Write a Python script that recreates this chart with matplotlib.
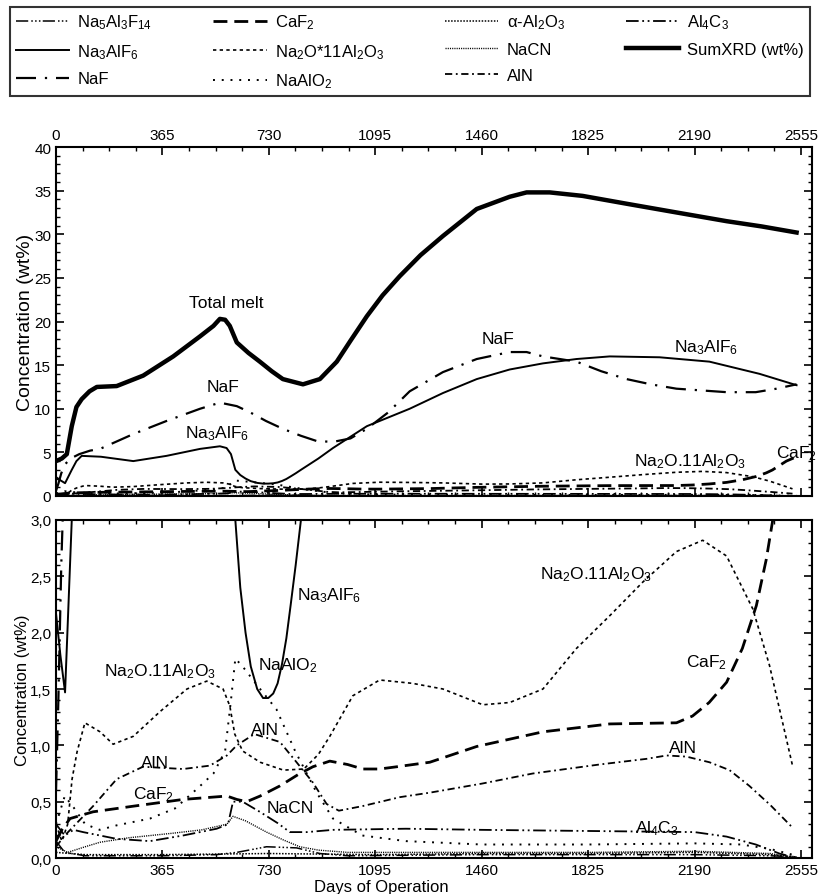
import matplotlib
matplotlib.use("Agg")
import matplotlib.pyplot as plt
from matplotlib.ticker import MultipleLocator, FuncFormatter

plt.rcParams['font.family'] = ['Liberation Sans', 'DejaVu Sans']
plt.rcParams['mathtext.fontset'] = 'custom'
plt.rcParams['mathtext.rm'] = 'Liberation Sans'
plt.rcParams['mathtext.it'] = 'Liberation Sans'

# --- data (days of operation, wt%) ---
sum_days = [0, 20, 37, 54, 70, 88, 115, 140, 208, 299, 402, 494, 540, 562, 580, 596, 620, 660, 699,
            740, 778, 847, 905, 963, 1010, 1066, 1120, 1179, 1250, 1327, 1443, 1556, 1614, 1693, 1806,
            1957, 2128, 2300, 2420, 2540]
sum_vals = [4.0, 4.3, 4.8, 8.0, 10.2, 11.1, 12.0, 12.5, 12.6, 13.8, 16.0, 18.3, 19.5, 20.3, 20.2, 19.5,
            17.6, 16.4, 15.4, 14.3, 13.4, 12.8, 13.4, 15.4, 17.8, 20.6, 23.0, 25.2, 27.6, 29.8, 32.9,
            34.3, 34.8, 34.8, 34.4, 33.5, 32.5, 31.5, 30.9, 30.2]

na3_days = [0, 15, 31, 42, 54, 70, 88, 154, 265, 379, 494, 562, 585, 600, 615, 632, 650, 668, 690, 710,
            728, 745, 760, 775, 790, 805, 822, 840, 900, 950, 1066, 1213, 1327, 1443, 1556, 1670, 1785,
            1899, 2070, 2241, 2413, 2540]
na3_vals = [2.17, 1.8, 1.47, 2.2, 3.0, 4.0, 4.6, 4.5, 4.0, 4.6, 5.4, 5.7, 5.5, 4.8, 3.0, 2.4, 2.0,
            1.7, 1.5, 1.42, 1.42, 1.46, 1.55, 1.72, 1.95, 2.25, 2.6, 3.0, 4.3, 5.5, 8.0, 10.0, 11.8,
            13.4, 14.5, 15.2, 15.7, 16.0, 15.9, 15.4, 14.0, 12.7]

naf_days = [0, 8, 18, 30, 50, 80, 117, 151, 265, 379, 494, 562, 620, 665, 720, 778, 840, 894, 950, 1010,
            1066, 1140, 1213, 1327, 1443, 1556, 1614, 1670, 1785, 1870, 1957, 2040, 2128, 2300, 2400,
            2471, 2540]
naf_vals = [0.6, 1.4, 2.6, 3.6, 4.3, 4.8, 5.2, 5.4, 7.1, 8.6, 10.0, 10.7, 10.3, 9.6, 8.6, 7.7, 6.9, 6.3,
            6.2, 6.6, 7.7, 9.6, 12.0, 14.2, 15.7, 16.5, 16.5, 16.0, 15.4, 14.3, 13.4, 12.8, 12.3, 11.9,
            11.9, 12.3, 12.8]

na2o_days = [0, 20, 40, 55, 72, 99, 151, 196, 265, 357, 449, 517, 573, 596, 613, 640, 700, 780, 850, 900,
             939, 1018, 1110, 1223, 1327, 1464, 1556, 1670, 1785, 1899, 2013, 2128, 2218, 2300, 2390,
             2447, 2526]
na2o_vals = [0.3, 0.15, 0.3, 0.7, 0.94, 1.2, 1.12, 1.01, 1.08, 1.30, 1.50, 1.57, 1.5, 1.35, 1.1, 0.95,
             0.85, 0.78, 0.79, 0.92, 1.08, 1.44, 1.58, 1.55, 1.5, 1.36, 1.38, 1.5, 1.86, 2.15, 2.45,
             2.72, 2.82, 2.68, 2.21, 1.71, 0.82]

caf2_days = [0, 20, 48, 127, 265, 436, 586, 620, 654, 700, 768, 830, 881, 939, 1000, 1052, 1110, 1169,
             1282, 1443, 1670, 1899, 2128, 2183, 2240, 2300, 2354, 2402, 2436, 2457, 2505, 2540]
caf2_vals = [0.15, 0.25, 0.35, 0.41, 0.46, 0.52, 0.55, 0.52, 0.5, 0.55, 0.64, 0.74, 0.81, 0.86, 0.83,
             0.79, 0.79, 0.81, 0.85, 0.99, 1.12, 1.19, 1.2, 1.26, 1.38, 1.56, 1.86, 2.24, 2.65, 2.98,
             4.0, 4.5]

aln_days = [0, 30, 60, 127, 208, 298, 436, 528, 586, 620, 680, 768, 825, 881, 928, 970, 1050, 1179,
            1282, 1460, 1635, 1864, 2025, 2094, 2162, 2241, 2310, 2378, 2450, 2526]
aln_vals = [0.1, 0.2, 0.28, 0.46, 0.70, 0.81, 0.79, 0.82, 0.91, 1.0, 1.1, 1.03, 0.85, 0.67, 0.48, 0.42,
            0.46, 0.54, 0.58, 0.66, 0.75, 0.83, 0.88, 0.91, 0.90, 0.85, 0.78, 0.64, 0.47, 0.27]

naalo2_days = [0, 30, 60, 100, 150, 208, 322, 408, 482, 540, 580, 600, 615, 640, 700, 756, 820, 894,
               950, 1050, 1200, 1460, 1825, 2190, 2350, 2450, 2540]
naalo2_vals = [0.3, 0.55, 0.45, 0.3, 0.25, 0.29, 0.35, 0.44, 0.61, 0.75, 0.95, 1.4, 1.77, 1.7, 1.5,
               1.32, 0.95, 0.58, 0.35, 0.2, 0.15, 0.12, 0.12, 0.13, 0.12, 0.08, 0.02]

al4c3_days = [0, 30, 60, 93, 208, 322, 436, 551, 590, 607, 640, 699, 760, 802, 860, 950, 1200, 1460,
              1825, 2190, 2300, 2400, 2481, 2540]
al4c3_vals = [0.3, 0.2, 0.25, 0.23, 0.17, 0.15, 0.2, 0.26, 0.3, 0.5, 0.5, 0.41, 0.31, 0.23, 0.23, 0.25,
              0.26, 0.25, 0.24, 0.23, 0.19, 0.12, 0.04, 0.0]

nacn_days = [0, 40, 100, 151, 250, 400, 500, 586, 607, 650, 722, 780, 836, 900, 1000, 1460, 1825, 2190,
             2450, 2540]
nacn_vals = [0.1, 0.05, 0.1, 0.14, 0.18, 0.22, 0.25, 0.3, 0.37, 0.33, 0.23, 0.16, 0.1, 0.07, 0.05, 0.05,
             0.05, 0.06, 0.04, 0.0]

alox_days = [0, 100, 365, 730, 1095, 1460, 1825, 2190, 2450, 2540]
alox_vals = [0.05, 0.03, 0.03, 0.04, 0.03, 0.04, 0.04, 0.05, 0.03, 0.01]

na5_days = [0, 30, 100, 365, 550, 620, 722, 825, 905, 1000, 1460, 1825, 2190, 2450, 2540]
na5_vals = [0.15, 0.05, 0.02, 0.02, 0.03, 0.05, 0.1, 0.09, 0.04, 0.02, 0.03, 0.03, 0.03, 0.02, 0.01]

day_ticks = [0, 365, 730, 1095, 1460, 1825, 2190, 2555]

# label, days, values, linestyle, linewidth
series = [
    ('Na$_5$Al$_3$F$_{14}$', na5_days, na5_vals, (0, (8, 2, 1, 1.5, 1, 1.5, 1, 1.5)), 1.1),
    ('Na$_3$AlF$_6$', na3_days, na3_vals, '-', 1.4),
    ('NaF', naf_days, naf_vals, (0, (9, 4, 1, 4)), 1.6),
    ('CaF$_2$', caf2_days, caf2_vals, (0, (5, 2.5)), 2.0),
    ('Na$_2$O*11Al$_2$O$_3$', na2o_days, na2o_vals, (0, (2, 2)), 1.2),
    ('NaAlO$_2$', naalo2_days, naalo2_vals, (0, (1, 3.5)), 1.4),
    ('α-Al$_2$O$_3$', alox_days, alox_vals, (0, (1, 1)), 1.1),
    ('NaCN', nacn_days, nacn_vals, (0, (0.8, 0.8)), 1.0),
    ('AlN', aln_days, aln_vals, (0, (4, 2, 1, 2)), 1.3),
    ('Al$_4$C$_3$', al4c3_days, al4c3_vals, (0, (7, 2, 1, 2, 1, 2)), 1.3),
    ('SumXRD (wt%)', sum_days, sum_vals, '-', 3.2),
]

fig = plt.figure(figsize=(8.19, 8.95), dpi=100)
ax1 = fig.add_axes([0.0684, 0.4447, 0.9231, 0.3899])
ax2 = fig.add_axes([0.0684, 0.0402, 0.9231, 0.3777])

handles = []
for lab, d, v, ls, lw in series:
    h, = ax1.plot(d, v, color='black', linestyle=ls, linewidth=lw, label=lab)
    ax2.plot(d, v, color='black', linestyle=ls, linewidth=lw)
    handles.append(h)

for ax in (ax1, ax2):
    ax.set_xlim(0, 2593)
    ax.set_xticks(day_ticks)
    ax.xaxis.set_minor_locator(MultipleLocator(91.25))
    ax.tick_params(which='both', direction='in', top=True, right=True, labelsize=11)
    ax.tick_params(which='major', length=6, width=1.2)
    ax.tick_params(which='minor', length=3, width=1)
    for s in ax.spines.values():
        s.set_linewidth(1.5)

ax1.set_ylabel('Concentration (wt%)', fontsize=14, labelpad=0)
ax2.set_ylabel('Concentration (wt%)', fontsize=12, labelpad=0)

ax1.set_ylim(0, 40)
ax1.yaxis.set_major_locator(MultipleLocator(5))
ax1.yaxis.set_minor_locator(MultipleLocator(1))
ax1.tick_params(axis='x', labeltop=True, labelbottom=False)

ax2.set_ylim(0, 3.0)
ax2.yaxis.set_major_locator(MultipleLocator(0.5))
ax2.yaxis.set_minor_locator(MultipleLocator(0.1))
ax2.yaxis.set_major_formatter(FuncFormatter(lambda y, p: f'{y:.1f}'.replace('.', ',')))
ax2.set_xlabel('Days of Operation', fontsize=12)
ax2.xaxis.set_label_coords(0.43, -0.062)

fs = 12.5
ax1.text(585, 22.2, 'Total melt', ha='center', va='center', fontsize=fs)
ax1.text(573, 12.6, 'NaF', ha='center', va='center', fontsize=fs)
ax1.text(551, 7.3, 'Na$_3$AlF$_6$', ha='center', va='center', fontsize=fs)
ax1.text(1515, 18.0, 'NaF', ha='center', va='center', fontsize=fs)
ax1.text(2231, 17.1, 'Na$_3$AlF$_6$', ha='center', va='center', fontsize=fs)
ax1.text(2173, 4.0, 'Na$_2$O.11Al$_2$O$_3$', ha='center', va='center', fontsize=fs)
ax1.text(2470, 5.0, 'CaF$_2$', ha='left', va='center', fontsize=fs)

ax2.text(826, 2.34, 'Na$_3$AlF$_6$', ha='left', va='center', fontsize=fs)
ax2.text(796, 1.72, 'NaAlO$_2$', ha='center', va='center', fontsize=fs)
ax2.text(357, 1.66, 'Na$_2$O.11Al$_2$O$_3$', ha='center', va='center', fontsize=fs)
ax2.text(716, 1.14, 'AlN', ha='center', va='center', fontsize=fs)
ax2.text(340, 0.85, 'AlN', ha='center', va='center', fontsize=fs)
ax2.text(333, 0.57, 'CaF$_2$', ha='center', va='center', fontsize=fs)
ax2.text(802, 0.45, 'NaCN', ha='center', va='center', fontsize=fs)
ax2.text(1853, 2.52, 'Na$_2$O.11Al$_2$O$_3$', ha='center', va='center', fontsize=fs)
ax2.text(2231, 1.74, 'CaF$_2$', ha='center', va='center', fontsize=fs)
ax2.text(2149, 0.98, 'AlN', ha='center', va='center', fontsize=fs)
ax2.text(2060, 0.27, 'Al$_4$C$_3$', ha='center', va='center', fontsize=fs)

leg = fig.legend(handles=handles, loc='lower left', ncol=4, mode='expand',
                 bbox_to_anchor=(0.012, 0.8916, 0.977, 0.1), fontsize=12,
                 handlelength=3.2, handletextpad=0.5, frameon=True, fancybox=False,
                 edgecolor='black', borderaxespad=0, labelspacing=0.65, borderpad=0.35)
leg.get_frame().set_linewidth(1.5)

fig.savefig('out.png', dpi=100)
